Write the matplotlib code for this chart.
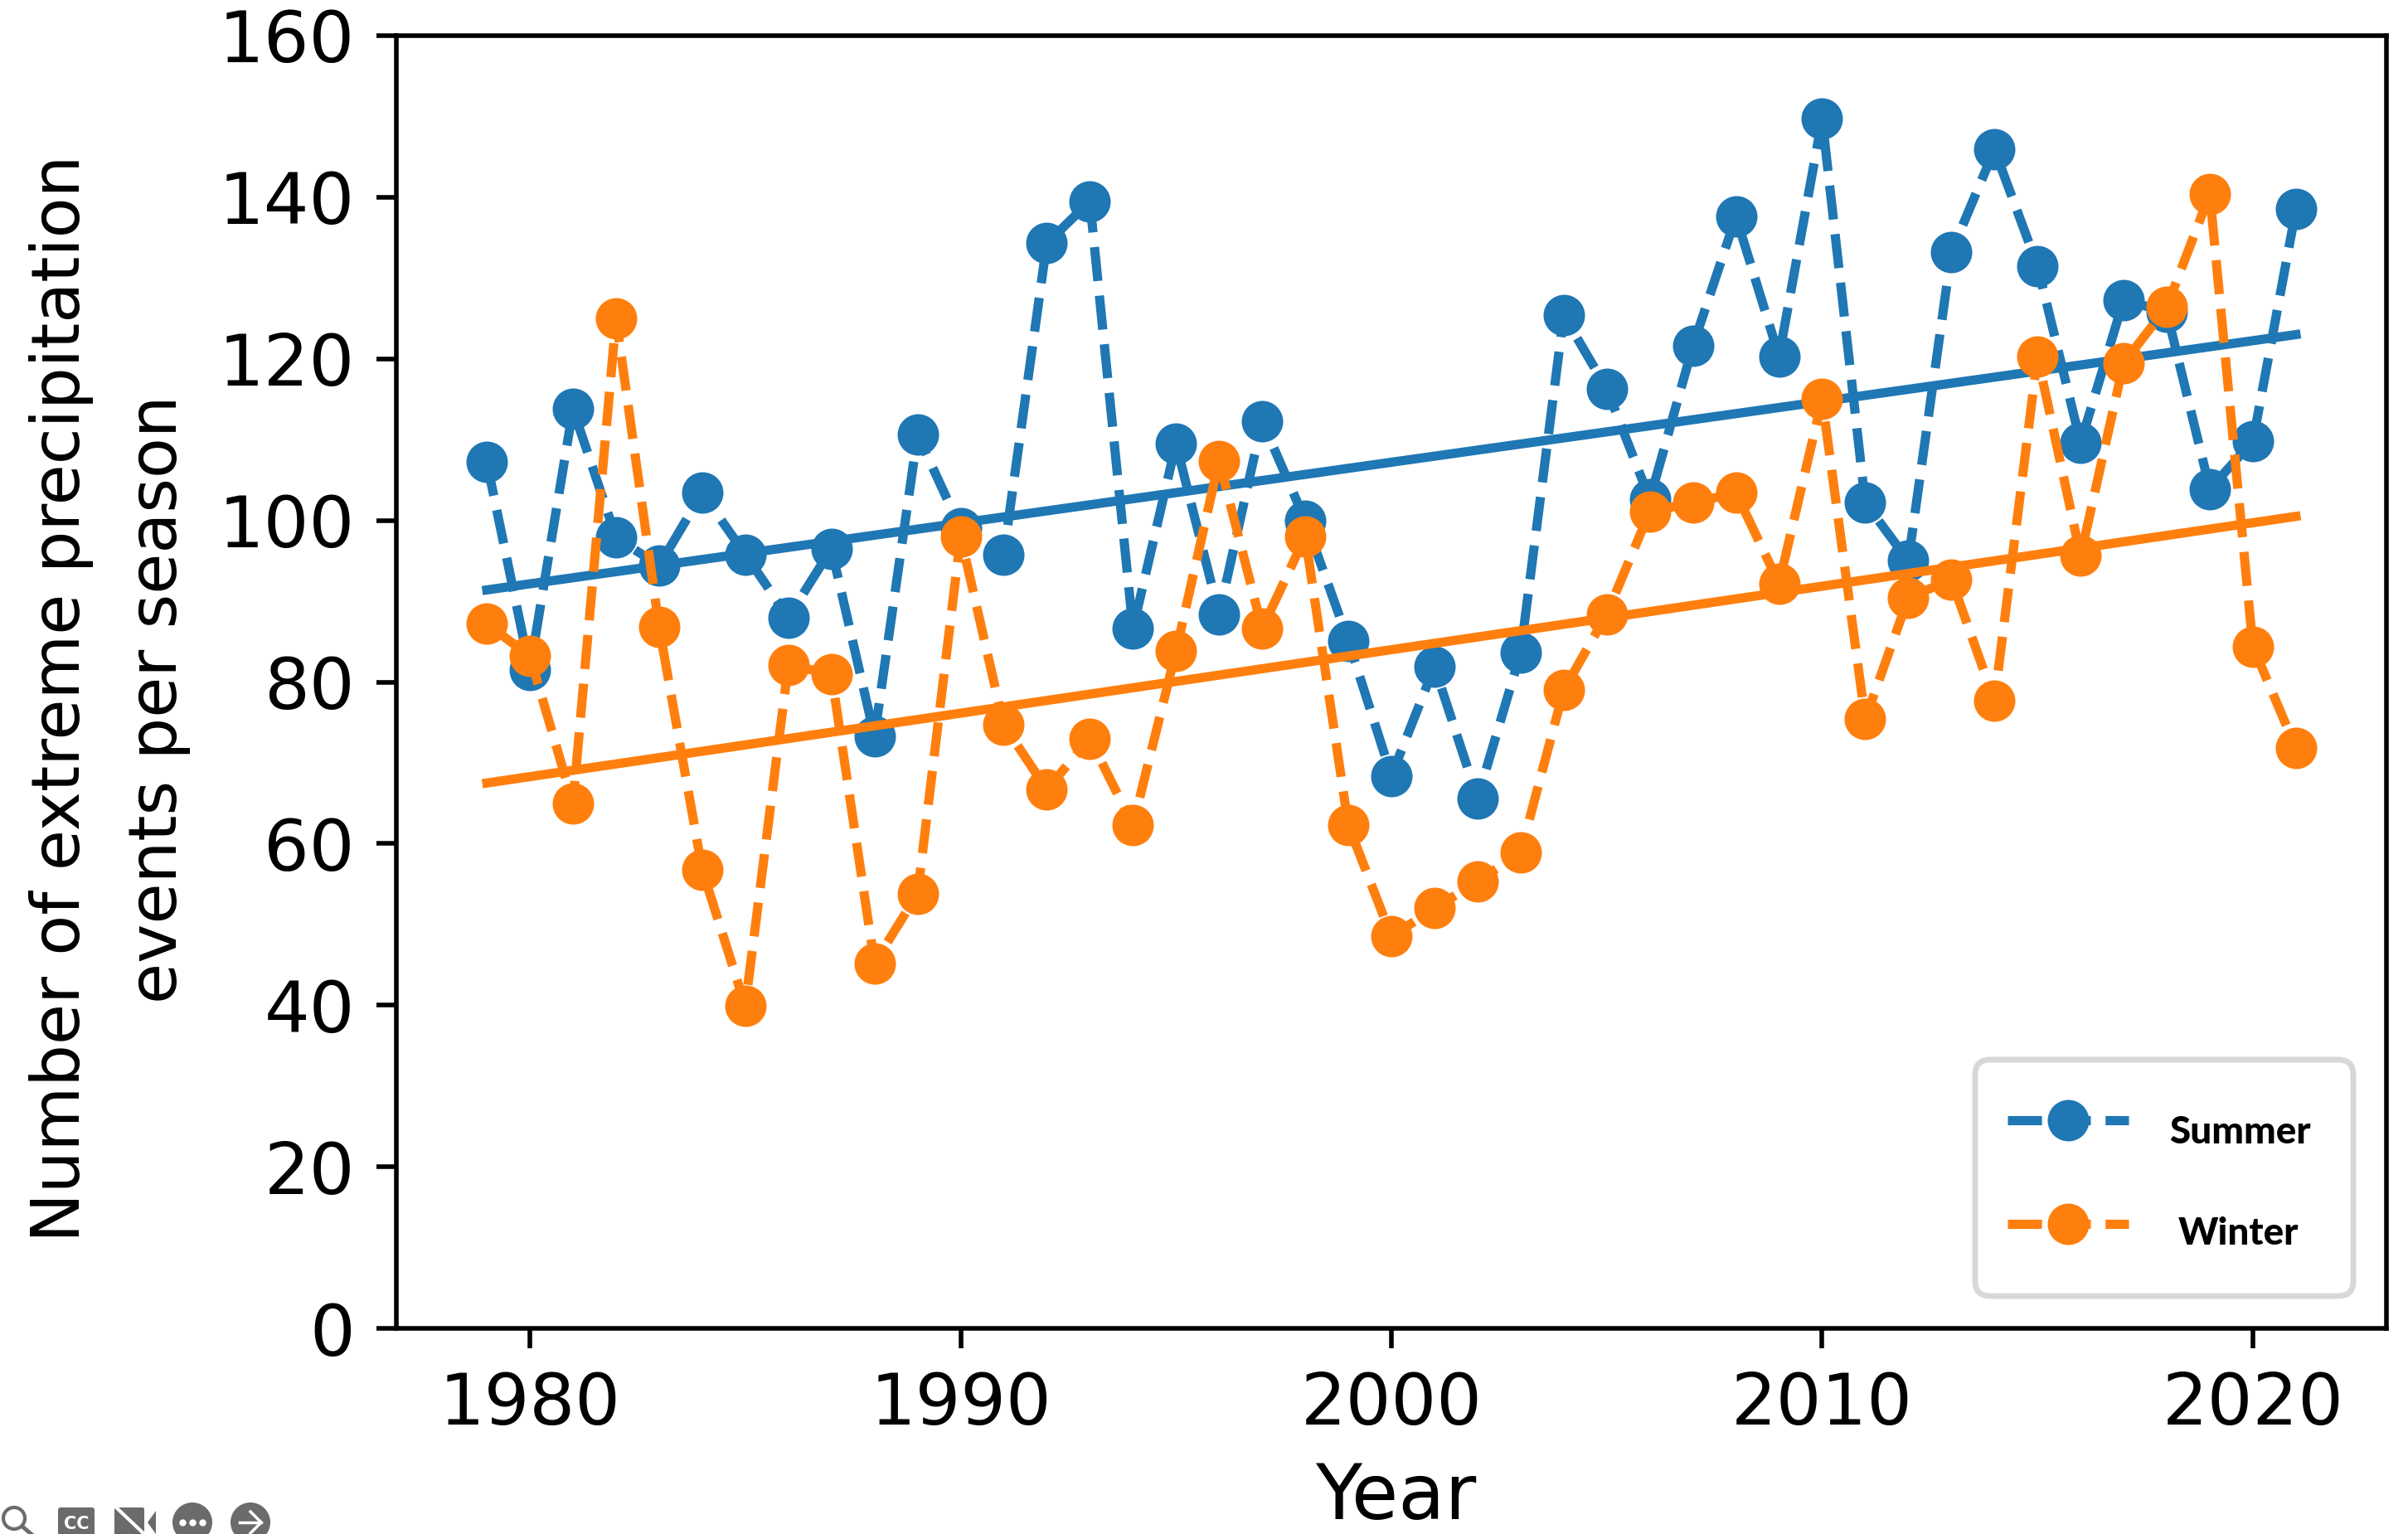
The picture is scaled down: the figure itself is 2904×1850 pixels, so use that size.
import matplotlib.pyplot as plt
from matplotlib.patches import Circle, FancyBboxPatch, Polygon
from matplotlib.transforms import IdentityTransform

years = list(range(1979, 2022))
summer = [107.2, 81.5, 113.8, 97.9, 94.4, 103.4, 95.8, 88.0, 96.5, 73.3, 110.6,
          99.0, 95.8, 134.3, 139.5, 86.6, 109.5, 88.4, 112.3, 100.0, 85.1,
          68.4, 81.9, 65.6, 83.6, 125.4, 116.3, 102.6, 121.6, 137.6, 120.3,
          149.7, 102.2, 95.0, 133.2, 145.9, 131.5, 109.6, 127.3, 125.8, 103.9,
          109.8, 138.5]
winter = [87.2, 83.2, 65.0, 125.0, 86.8, 56.8, 39.9, 82.1, 81.0, 45.2, 53.8,
          98.0, 74.7, 66.7, 73.0, 62.3, 83.8, 107.4, 86.6, 98.0, 62.3,
          48.5, 52.0, 55.3, 58.9, 79.0, 88.4, 101.1, 102.2, 103.4, 92.2,
          115.0, 75.4, 90.4, 92.7, 77.7, 120.3, 95.6, 119.5, 126.4, 140.4,
          84.4, 71.8]
trend_years = [1979, 2021]
summer_trend = [91.4, 123.0]
winter_trend = [67.5, 100.5]
xticks = [1980, 1990, 2000, 2010, 2020]
yticks = [0, 20, 40, 60, 80, 100, 120, 140, 160]

W, H = 2904, 1850
BLUE = '#1f77b4'
ORANGE = '#ff7f0e'
GREY = '#6b6b6b'

fig = plt.figure(figsize=(W / 100, H / 100), dpi=100)
ax = fig.add_axes([478 / W, 1 - 1602 / H, 2400 / W, 1559 / H])

style = dict(linestyle='--', linewidth=8, marker='o', markersize=36,
             markeredgewidth=0)
ax.plot(years, summer, color=BLUE, label='Summer', **style)
ax.plot(trend_years, summer_trend, color=BLUE, linewidth=8)
ax.plot(years, winter, color=ORANGE, label='Winter', **style)
ax.plot(trend_years, winter_trend, color=ORANGE, linewidth=8)

ax.set_xlim(1976.9, 2023.1)
ax.set_ylim(0, 160)
ax.set_xticks(xticks)
ax.set_yticks(yticks)
ax.tick_params(labelsize=62, length=17, width=4)
ax.tick_params(axis='x', pad=20)
ax.tick_params(axis='y', pad=19)
for s in ax.spines.values():
    s.set_linewidth(4)

ax.set_xlabel('Year', fontsize=66, labelpad=17.5, x=0.502)
ax.set_ylabel('Number of extreme precipitation\nevents per season', fontsize=57.6,
              y=0.487, labelpad=24, linespacing=1.65)

# legend frame is drawn by hand: its pads are not even top and bottom
ax.add_patch(FancyBboxPatch((2382, H - 1563), 456, 285, boxstyle='round,pad=0,rounding_size=18',
                            transform=IdentityTransform(), facecolor='white', edgecolor='#d8d8d8',
                            linewidth=5, zorder=4.5, clip_on=False))
leg = ax.legend(loc='lower right', bbox_to_anchor=(2838 / 2400 - 478 / 2400, (1602 - 1555) / 1559),
                borderaxespad=0, prop={'family': 'Lato', 'weight': 'black', 'size': 33},
                handlelength=3.18, handletextpad=1.45, labelspacing=1.2, handleheight=1.96,
                borderpad=0.75, frameon=False)
leg.get_texts()[0].set_position((-17, -3))
leg.get_texts()[1].set_position((-6, -1))

# toolbar icons along the bottom edge
ov = fig.add_axes([0, 0, 1, 1], facecolor='none')
ov.axis('off')
ov.add_patch(Circle((17, 1831), 13, fill=False, edgecolor=GREY, linewidth=3))
ov.plot([27, 40], [1841, 1852], color=GREY, linewidth=3.5)
ov.add_patch(FancyBboxPatch((70, 1818), 44, 34, boxstyle='round,pad=0,rounding_size=3',
                            facecolor=GREY, edgecolor='none'))
ov.text(92, 1838, 'CC', color='white', fontsize=15, fontweight='bold', ha='center', va='center')
ov.add_patch(FancyBboxPatch((138, 1818), 36, 34, boxstyle='round,pad=0,rounding_size=2',
                            facecolor=GREY, edgecolor='none'))
ov.add_patch(Polygon([(178, 1836), (188, 1822), (188, 1850)], facecolor=GREY, edgecolor='none'))
ov.plot([138, 176], [1816, 1852], color='white', linewidth=3)
ov.add_patch(Circle((232, 1836), 24, facecolor=GREY, edgecolor='none'))
ov.plot([220, 232, 244], [1836, 1836, 1836], linestyle='none', marker='o', markersize=5, color='white')
ov.add_patch(Circle((302, 1836), 24, facecolor=GREY, edgecolor='none'))
ov.plot([289, 315], [1836, 1836], color='white', linewidth=2.5)
ov.plot([302, 315, 302], [1823, 1836, 1849], color='white', linewidth=2.5)
ov.set_xlim(0, W)
ov.set_ylim(H, 0)

fig.savefig('out.png', dpi=100)
